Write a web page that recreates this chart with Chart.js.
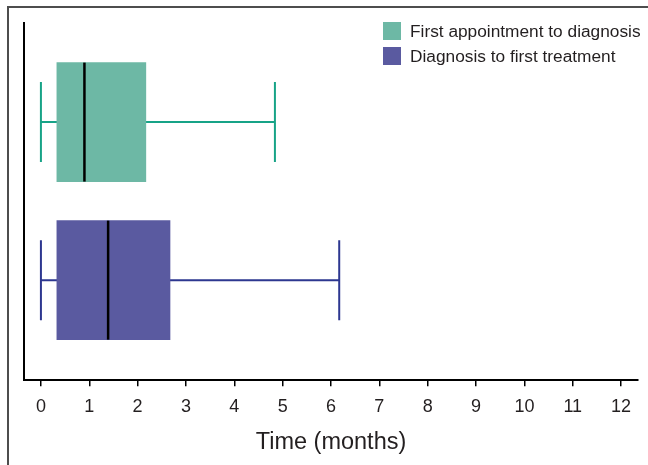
<!DOCTYPE html>
<html>
<head>
<meta charset="utf-8">
<script src="https://cdn.jsdelivr.net/npm/chart.js@4.4.1/dist/chart.umd.min.js"></script>
<style>
	body { margin: 0; background: #fff; overflow: hidden; }
	#wrap { position: relative; width: 648px; height: 465px; }
	#frame { position: absolute; left: 7px; top: 6px; width: 700px; height: 500px;
		border-left: 2px solid #4d4d4d; border-top: 2px solid #4d4d4d; }
	#myChart { position: absolute; left: 0; top: 0; }
	#legend { position: absolute; left: 383px; top: 22px; font-family: "Liberation Sans", Arial, sans-serif;
		font-size: 17.3px; color: #231f20; }
	#legend .item { height: 18px; margin-bottom: 7px; display: flex; align-items: center; white-space: nowrap; }
	#legend .box { width: 18px; height: 18px; margin-right: 9px; }
</style>
</head>
<body>
<div id="wrap">
	<div id="frame"></div>
	<canvas id="myChart" width="648" height="465"></canvas>
	<div id="legend"></div>
</div>
<script>
// box plot values, in months
const categories = ["First appointment to diagnosis", "Diagnosis to first treatment"];
const minVals = [0, 0];
const q1Vals = [0.33, 0.33];
const medianVals = [0.9, 1.39];
const q3Vals = [2.17, 2.67];
const maxVals = [4.84, 6.17];
const xTicks = [0, 1, 2, 3, 4, 5, 6, 7, 8, 9, 10, 11, 12];

const boxColors = ["#6db8a5", "#5a5aa0"];
const whiskerColors = ["#17a387", "#2d3790"];

/* whiskers behind the boxes, medians on top */
const boxPlotLines = {
	id: 'boxPlotLines',
	beforeDatasetsDraw(chart) {
		const ctx = chart.ctx, x = chart.scales.x, y = chart.scales.y;
		ctx.save();
		categories.forEach(function (c, i) {
			const yp = y.getPixelForValue(i + 1);
			const x0 = x.getPixelForValue(minVals[i]);
			const x1 = x.getPixelForValue(maxVals[i]);
			ctx.strokeStyle = whiskerColors[i];
			ctx.lineWidth = 2;
			ctx.beginPath();
			ctx.moveTo(x0, yp); ctx.lineTo(x1, yp);
			ctx.moveTo(x0, yp - 40); ctx.lineTo(x0, yp + 40);
			ctx.moveTo(x1, yp - 40); ctx.lineTo(x1, yp + 40);
			ctx.stroke();
		});
		ctx.restore();
	},
	afterDatasetsDraw(chart) {
		const ctx = chart.ctx, x = chart.scales.x;
		ctx.save();
		categories.forEach(function (c, i) {
			const bar = chart.getDatasetMeta(i).data[0];
			const xm = x.getPixelForValue(medianVals[i]);
			ctx.strokeStyle = "#000";
			ctx.lineWidth = 2.5;
			ctx.beginPath();
			ctx.moveTo(xm, bar.y - bar.height / 2);
			ctx.lineTo(xm, bar.y + bar.height / 2);
			ctx.stroke();
		});
		ctx.restore();
	}
};

const chart = new Chart(document.getElementById("myChart").getContext('2d'), {
	type: 'bar',
	data: {
		datasets: categories.map(function (c, i) {
			return {
				label: c,
				data: [{ x: [q1Vals[i], q3Vals[i]], y: i + 1 }],
				backgroundColor: boxColors[i],
				borderWidth: 0,
				barThickness: 119,
				grouped: false
			};
		})
	},
	options: {
		indexAxis: 'y',
		responsive: false,
		animation: false,
		devicePixelRatio: 1,
		layout: { padding: { left: 24, top: 23, right: 10, bottom: 4 } },
		plugins: {
			legend: { display: false },
			tooltip: { enabled: false }
		},
		scales: {
			x: {
				type: 'linear',
				min: -0.35,
				max: 12.35,
				afterBuildTicks: function (axis) {
					axis.ticks = xTicks.map(function (v) { return { value: v }; });
				},
				grid: { drawOnChartArea: false, drawTicks: true, tickLength: 6, color: '#000', lineWidth: 1.5 },
				border: { display: true, color: '#000', width: 2 },
				ticks: {
					color: '#231f20',
					padding: 10,
					maxRotation: 0,
					autoSkip: false,
					font: { family: "Liberation Sans", size: 18 }
				},
				title: {
					display: true,
					text: 'Time (months)',
					color: '#231f20',
					padding: { top: 1, bottom: 4 },
					font: { family: "Liberation Sans", size: 23.5 }
				}
			},
			y: {
				type: 'linear',
				reverse: true,
				offset: false,
				min: 0.373,
				max: 2.633,
				grid: { display: false, drawTicks: false },
				border: { display: true, color: '#000', width: 2 },
				ticks: { display: false }
			}
		}
	},
	plugins: [boxPlotLines]
});

// legend built from the datasets
const legend = document.getElementById('legend');
chart.data.datasets.forEach(function (ds) {
	const item = document.createElement('div');
	item.className = 'item';
	const box = document.createElement('span');
	box.className = 'box';
	box.style.background = ds.backgroundColor;
	const txt = document.createElement('span');
	txt.textContent = ds.label;
	item.appendChild(box);
	item.appendChild(txt);
	legend.appendChild(item);
});
</script>
</body>
</html>
